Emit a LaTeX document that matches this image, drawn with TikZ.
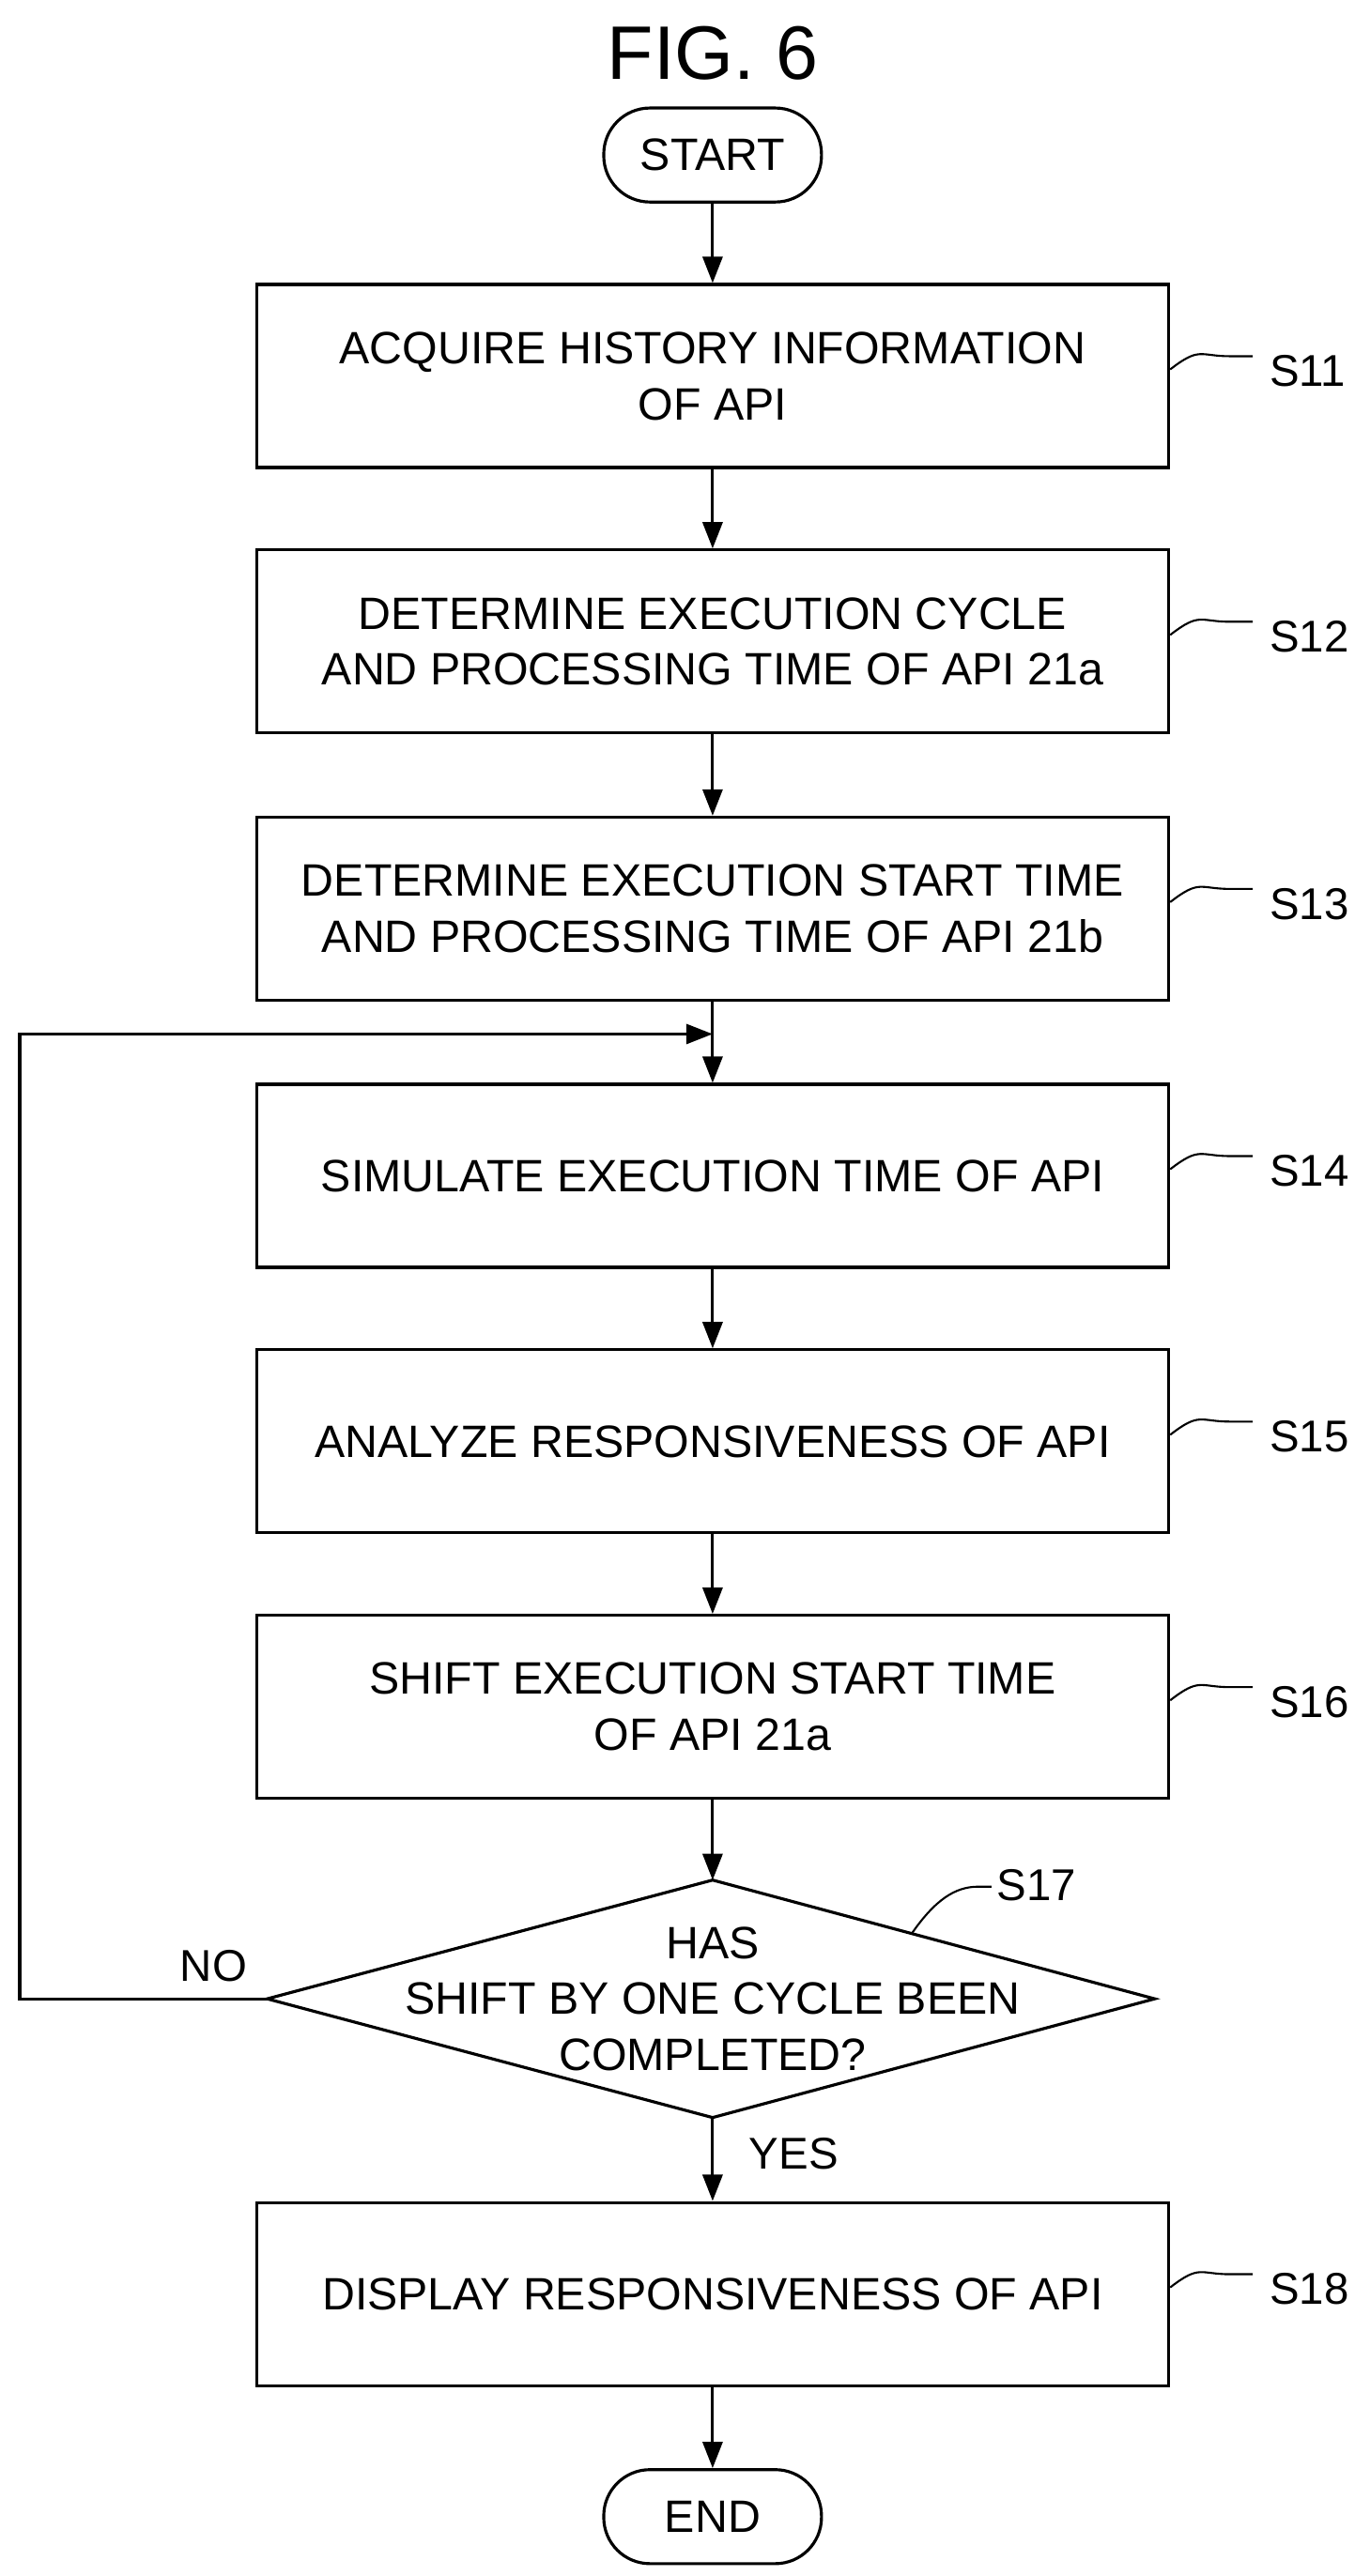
\documentclass[tikz,border=0pt]{standalone}
\usepackage{fontspec}
\setmainfont{Liberation Sans}
\usetikzlibrary{shapes.geometric,arrows.meta}
\begin{document}
\begin{tikzpicture}[x=1pt,y=-1pt,line width=1.8pt,
 box/.style={draw,minimum width=553pt,minimum height=111pt,align=center,font=\fontsize{27.5}{34}\selectfont,inner sep=0pt},
 term/.style={draw,rounded corners=28pt,minimum width=132pt,minimum height=57pt,font=\fontsize{27.5}{30}\selectfont},
 lab/.style={font=\fontsize{27}{30}\selectfont,anchor=west},
 arr/.style={-{Triangle[length=16pt,width=12pt]}}]
\useasboundingbox (0,0) rectangle (830,1562);
\node[font=\fontsize{46}{50}\selectfont] (title) at (432,32) {FIG. 6};
\node[term] (start) at (432,94) {START};
\node[box] (s11) at (432,228) {ACQUIRE HISTORY INFORMATION\\OF API};
\node[box] (s12) at (432,389) {DETERMINE EXECUTION CYCLE\\AND PROCESSING TIME OF API 21a};
\node[box] (s13) at (432,551) {DETERMINE EXECUTION START TIME\\AND PROCESSING TIME OF API 21b};
\node[box] (s14) at (432,713) {SIMULATE EXECUTION TIME OF API};
\node[box] (s15) at (432,874) {ANALYZE RESPONSIVENESS OF API};
\node[box] (s16) at (432,1035) {SHIFT EXECUTION START TIME\\OF API 21a};
\coordinate (dt) at (432,1140);
\coordinate (db) at (432,1284);
\coordinate (dl) at (162,1212);
\coordinate (dr) at (700,1212);
\draw (dt) -- (dr) -- (db) -- (dl) -- cycle;
\node[align=center,font=\fontsize{27.5}{34}\selectfont] (s17) at (432,1212) {HAS\\SHIFT BY ONE CYCLE BEEN\\COMPLETED?};
\node[box] (s18) at (432,1391) {DISPLAY RESPONSIVENESS OF API};
\node[term] (end) at (432,1526) {END};
\coordinate (join) at (432,627);
\coordinate (lc1) at (12,1212);
\coordinate (lc2) at (12,627);
\draw[arr] (start) -- (s11);
\draw[arr] (s11) -- (s12);
\draw[arr] (s12) -- (s13);
\draw[arr] (s13) -- (s14);
\draw[arr] (s14) -- (s15);
\draw[arr] (s15) -- (s16);
\draw[arr] (s16) -- (dt);
\draw[arr] (db) -- (s18);
\draw[arr] (s18) -- (end);
\draw[arr] (dl) -- (lc1) -- (lc2) -- (join);
\node[lab] (no) at (105,1192) {NO};
\node[lab] (yes) at (450,1306) {YES};
\foreach \n/\t in {s11/S11,s12/S12,s13/S13,s14/S14,s15/S15,s16/S16,s18/S18}{
  \draw[line width=1.2pt] ([yshift=4pt]\n.east) .. controls +(18,-14) and +(-18,0) .. ++(36,-8) -- ++(14,0);
  \node[lab] at ([xshift=56pt,yshift=3pt]\n.east) {\t};
}
\coordinate (d17) at (553,1172);
\draw[line width=1.2pt] (d17) .. controls +(14,-20) and +(-14,0) .. ++(40,-28) -- ++(8,0);
\node[lab] (l17) at (600,1143) {S17};
\end{tikzpicture}
\end{document}
